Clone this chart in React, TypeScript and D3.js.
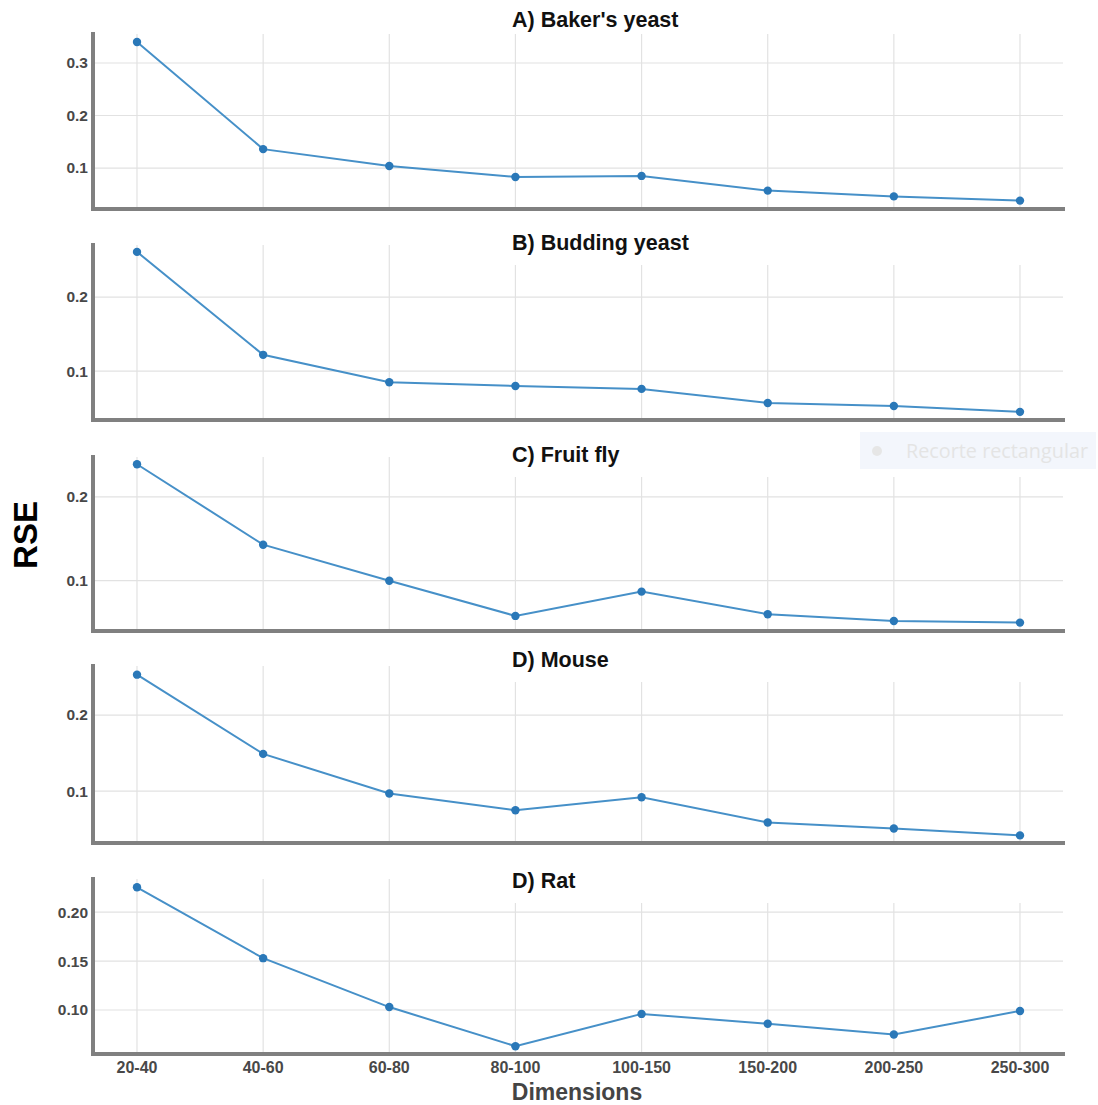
import React from 'react';
import * as d3 from 'd3';

const CATEGORIES = ['20-40', '40-60', '60-80', '80-100', '100-150', '150-200', '200-250', '250-300'];

const BAKERS_YEAST = [0.34, 0.136, 0.104, 0.083, 0.085, 0.057, 0.046, 0.038];
const BUDDING_YEAST = [0.261, 0.122, 0.085, 0.08, 0.076, 0.057, 0.053, 0.045];
const FRUIT_FLY = [0.239, 0.143, 0.1, 0.058, 0.087, 0.06, 0.052, 0.05];
const MOUSE = [0.253, 0.149, 0.097, 0.075, 0.092, 0.059, 0.051, 0.042];
const RAT = [0.2255, 0.153, 0.103, 0.063, 0.096, 0.086, 0.075, 0.099];

const TITLES = ["A) Baker's yeast", 'B) Budding yeast', 'C) Fruit fly', 'D) Mouse', 'D) Rat'];
const SERIES = [BAKERS_YEAST, BUDDING_YEAST, FRUIT_FLY, MOUSE, RAT];
const Y_DOMAINS: [number, number][] = [
  [0.022, 0.359],
  [0.034, 0.273],
  [0.04, 0.25],
  [0.032, 0.267],
  [0.055, 0.236],
];
const Y_TICKS = [
  [0.1, 0.2, 0.3],
  [0.1, 0.2],
  [0.1, 0.2],
  [0.1, 0.2],
  [0.1, 0.15, 0.2],
];
const Y_FORMATS = ['.1f', '.1f', '.1f', '.1f', '.2f'];

// panel geometry (pixels)
const PANELS = [
  { top: 32, bottom: 209, gridTop: 33, titleY: 27 },
  { top: 243, bottom: 420, gridTop: 265, titleY: 250 },
  { top: 455, bottom: 631, gridTop: 477, titleY: 462 },
  { top: 664, bottom: 843, gridTop: 682, titleY: 667 },
  { top: 877, bottom: 1054, gridTop: 903, titleY: 888 },
];

const W = 1098;
const H = 1105;
const AXIS_X = 93;
const RIGHT = 1065;
const LINE_COLOR = '#4690c8';
const DOT_COLOR = '#2a78b8';
const GRID = '#e2e2e2';
const AXIS = '#808080';
const FONT = '"Liberation Sans", Arial, sans-serif';

const x = d3.scalePoint<string>().domain(CATEGORIES).range([137, 1020]);

function Panel({ idx }: { idx: number }) {
  const p = PANELS[idx];
  const values = SERIES[idx];
  const y = d3.scaleLinear().domain(Y_DOMAINS[idx]).range([p.bottom, p.top]);
  const fmt = d3.format(Y_FORMATS[idx]);
  const line = d3
    .line<number>()
    .x((_, i) => x(CATEGORIES[i]) as number)
    .y((d) => y(d));
  const isLast = idx === PANELS.length - 1;

  return (
    <g>
      {/* horizontal grid */}
      {Y_TICKS[idx].map((t) => (
        <line key={'h' + t} x1={AXIS_X} x2={RIGHT - 2} y1={y(t)} y2={y(t)} stroke={GRID} strokeWidth={1.2} />
      ))}
      {/* vertical grid: left ones reach top, right ones start below the title band */}
      {CATEGORIES.map((c) => {
        const cx = x(c) as number;
        const top = idx === 0 || cx < 450 ? p.top + 2 : p.gridTop;
        return <line key={'v' + c} x1={cx} x2={cx} y1={top} y2={p.bottom} stroke={GRID} strokeWidth={1.2} />;
      })}
      {/* y tick labels */}
      {Y_TICKS[idx].map((t) => (
        <text
          key={'t' + t}
          x={88}
          y={y(t)}
          dy="0.35em"
          textAnchor="end"
          fontFamily={FONT}
          fontWeight="bold"
          fontSize={15.5}
          fill="#484848"
        >
          {fmt(t)}
        </text>
      ))}
      {/* series */}
      <path d={line(values) || ''} fill="none" stroke={LINE_COLOR} strokeWidth={2} />
      {values.map((v, i) => (
        <circle key={'c' + i} cx={x(CATEGORIES[i])} cy={y(v)} r={4.2} fill={DOT_COLOR} />
      ))}
      {/* axes */}
      <line x1={AXIS_X} x2={AXIS_X} y1={p.top} y2={p.bottom + 2} stroke={AXIS} strokeWidth={4} />
      <line x1={AXIS_X - 2} x2={RIGHT} y1={p.bottom} y2={p.bottom} stroke={AXIS} strokeWidth={4} />
      {/* title */}
      <text x={512} y={p.titleY} fontFamily={FONT} fontWeight="bold" fontSize={21.5} fill="#111">
        {TITLES[idx]}
      </text>
      {isLast &&
        CATEGORIES.map((c) => (
          <text
            key={'x' + c}
            x={x(c)}
            y={1067}
            dy="0.35em"
            textAnchor="middle"
            fontFamily={FONT}
            fontWeight="bold"
            fontSize={16}
            fill="#484848"
          >
            {c}
          </text>
        ))}
    </g>
  );
}

export default function App() {
  return (
    <svg
      width={W}
      height={H}
      style={{ position: 'absolute', left: 0, top: 0, background: '#fff' }}
    >
      <rect width={W} height={H} fill="#fff" />
      {PANELS.map((_, i) => (
        <Panel key={i} idx={i} />
      ))}
      <text
        x={577}
        y={1092}
        dy="0.35em"
        textAnchor="middle"
        fontFamily={FONT}
        fontWeight="bold"
        fontSize={23}
        fill="#444"
      >
        Dimensions
      </text>
      <text
        transform="translate(25,535) rotate(-90)"
        dy="0.35em"
        textAnchor="middle"
        fontFamily={FONT}
        fontWeight="bold"
        fontSize={33}
        fill="#000"
      >
        RSE
      </text>
      {/* faint screenshot overlay */}
      <g opacity={0.9}>
        <rect x={860} y={432} width={236} height={37} fill="#f2f6fc" />
        <circle cx={877} cy={451} r={5} fill="#e4e4e4" />
        <text
          x={906}
          y={451}
          dy="0.35em"
          fontFamily='"Open Sans", sans-serif'
          fontSize={20}
          textLength={182}
          lengthAdjust="spacingAndGlyphs"
          fill="#e2e2e2"
        >
          Recorte rectangular
        </text>
      </g>
    </svg>
  );
}
